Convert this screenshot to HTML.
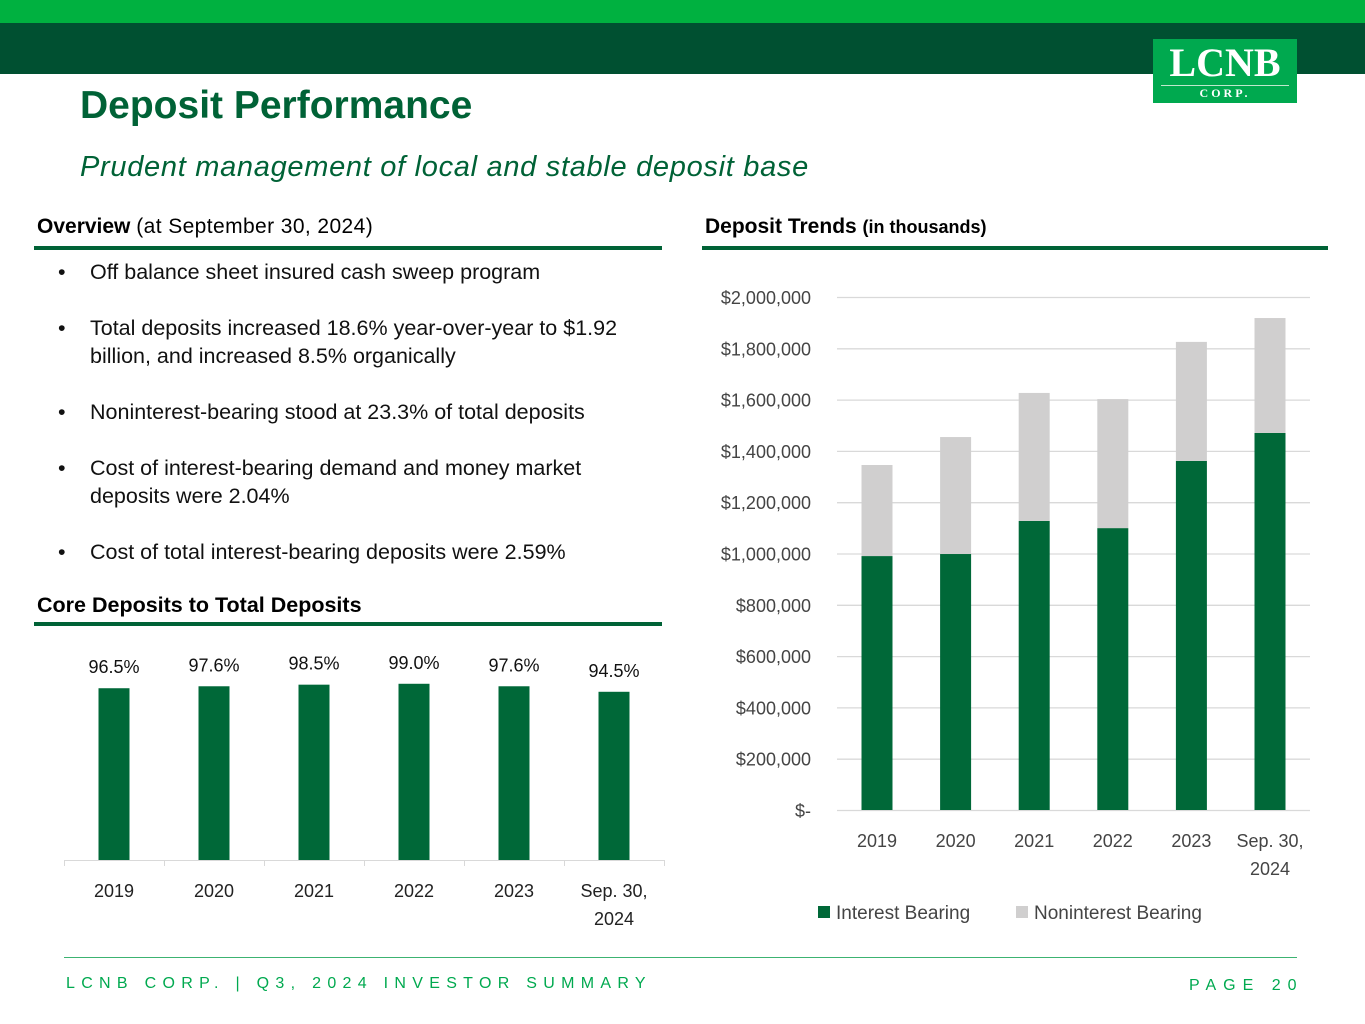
<!DOCTYPE html>
<html><head><meta charset="utf-8"><style>
body{margin:0;width:1365px;height:1024px;position:relative;background:#fff;font-family:"Liberation Sans",sans-serif;overflow:hidden}
.abs{position:absolute}
.bl{position:relative;padding-left:32px}
.bl .dot{position:absolute;left:0;top:0}
</style></head><body>
<div class="abs" style="left:0;top:0;width:1365px;height:23px;background:#00b140"></div>
<div class="abs" style="left:0;top:23px;width:1365px;height:51px;background:#005031"></div>
<div class="abs" style="left:1153px;top:39px;width:144px;height:64px;background:#00a94f;color:#fff;text-align:center;font-family:'Liberation Serif',serif">
<div style="font-size:40px;font-weight:bold;line-height:44px;margin-top:2px">LCNB</div>
<div style="border-top:1px solid #bfe8cc;margin:0 8px;font-size:12px;font-weight:bold;letter-spacing:3px;line-height:15px">CORP.</div></div>
<div class="abs" style="left:80px;top:84px;font-size:39px;font-weight:bold;color:#006236">Deposit Performance</div>
<div class="abs" style="left:80px;top:151px;font-size:29px;font-style:italic;color:#006236;letter-spacing:0.7px">Prudent management of local and stable deposit base</div>

<div class="abs" style="left:37px;top:215px;font-size:21px;color:#000"><b>Overview</b> <span style="letter-spacing:0.4px">(at September 30, 2024)</span></div>
<div class="abs" style="left:34px;top:246px;width:628px;height:4px;background:#006236"></div>
<div class="abs" style="left:58px;top:258px;font-size:21.5px;line-height:28px;color:#111;width:572px">
<div class="bl"><span class="dot">•</span>Off balance sheet insured cash sweep program</div>
<div class="bl" style="margin-top:28px"><span class="dot">•</span>Total deposits increased 18.6% year-over-year to $1.92 billion, and increased 8.5% organically</div>
<div class="bl" style="margin-top:28px"><span class="dot">•</span>Noninterest-bearing stood at 23.3% of total deposits</div>
<div class="bl" style="margin-top:28px"><span class="dot">•</span>Cost of interest-bearing demand and money market deposits were 2.04%</div>
<div class="bl" style="margin-top:28px"><span class="dot">•</span>Cost of total interest-bearing deposits were 2.59%</div>
</div>
<div class="abs" style="left:37px;top:593px;font-size:21.5px;font-weight:bold">Core Deposits to Total Deposits</div>
<div class="abs" style="left:34px;top:622px;width:628px;height:4px;background:#006236"></div>

<div class="abs" style="left:705px;top:215px;font-size:21px;font-weight:bold">Deposit Trends <span style="font-size:18px">(in thousands)</span></div>
<div class="abs" style="left:702px;top:246px;width:626px;height:4px;background:#006236"></div>

<svg class="abs" style="left:0;top:0" width="1365" height="1024">
<g id="core"></g>
<g id="trend"></g>
</svg>

<div class="abs" style="left:64px;top:957px;width:1233px;height:1px;background:#3cb371"></div>
<div class="abs" style="left:66px;top:975px;font-size:16px;letter-spacing:6.3px;color:#00a94f">LCNB CORP. | Q3, 2024 INVESTOR SUMMARY</div>
<div class="abs" style="left:1189px;top:977px;font-size:16px;letter-spacing:7px;color:#00a94f">PAGE 20</div>

<script>
const coreCats=["2019","2020","2021","2022","2023","Sep. 30,|2024"];
const coreVals=[96.5,97.6,98.5,99.0,97.6,94.5];
const trendCats=["2019","2020","2021","2022","2023","Sep. 30,|2024"];
const interestBearing=[990000,998000,1127000,1099000,1361000,1470000];
const noninterestBearing=[355000,456000,499000,503000,464000,448000];
const yTicks=[0,200000,400000,600000,800000,1000000,1200000,1400000,1600000,1800000,2000000];
const yTickLabels=["$-","$200,000","$400,000","$600,000","$800,000","$1,000,000","$1,200,000","$1,400,000","$1,600,000","$1,800,000","$2,000,000"];

const NS="http://www.w3.org/2000/svg";
function mk(p,t,a,txt){const e=document.createElementNS(NS,t);for(const k in a)e.setAttribute(k,a[k]);if(txt!==undefined)e.textContent=txt;p.appendChild(e);return e;}
const F='"Liberation Sans",sans-serif';
const core=document.getElementById('core');
const cx=i=>114+i*100, cy=v=>860-v/100*178;
let ax=mk(core,'line',{x1:64,x2:664,y1:860.5,y2:860.5,stroke:'#d9d9d9'});

for(let i=0;i<=6;i++){mk(core,'line',{x1:64+i*100+.5,x2:64+i*100+.5,y1:860,y2:866,stroke:'#d9d9d9'});}
coreVals.forEach((v,i)=>{
 const r=mk(core,'rect',{x:cx(i)-15.5,y:cy(v),width:31,height:860-cy(v),fill:'#006838'});
 
 
 const l=mk(core,'text',{x:cx(i),y:cy(v)-15,'text-anchor':'middle','font-size':18,'font-family':F,fill:'#111'},v.toFixed(1)+'%');
 
 
 coreCats[i].split('|').forEach((s,j)=>{const t=mk(core,'text',{x:cx(i),y:897+j*28,'text-anchor':'middle','font-size':18,'font-family':F,fill:'#222'},s);
 
 });
});
const tr=document.getElementById('trend');
const tx=i=>877+i*78.6, ty=v=>810-v/2000000*513;
yTicks.forEach((v,i)=>{
 const g=mk(tr,'line',{x1:837,x2:1310,y1:ty(v)+.5,y2:ty(v)+.5,stroke:'#d9d9d9','stroke-width':1.3});
 
 
 const t=mk(tr,'text',{x:811,y:ty(v)+7,'text-anchor':'end','font-size':18,'font-family':F,fill:'#444'},yTickLabels[i]);
 
 
});
interestBearing.forEach((v,i)=>{
 const n=noninterestBearing[i];
 const a=mk(tr,'rect',{x:tx(i)-15.5,y:ty(v),width:31,height:ty(0)-ty(v),fill:'#006838'});
 
 
 const b=mk(tr,'rect',{x:tx(i)-15.5,y:ty(v+n),width:31,height:ty(v)-ty(v+n),fill:'#d0cfcf'});
 
 
 trendCats[i].split('|').forEach((s,j)=>{const t=mk(tr,'text',{x:tx(i),y:847+j*28,'text-anchor':'middle','font-size':18,'font-family':F,fill:'#444'},s);
 
 });
});
let lg=mk(tr,'rect',{x:818,y:906,width:12,height:12,fill:'#006838'});

lg=mk(tr,'text',{x:836,y:919,'font-size':19,'font-family':F,fill:'#444'},'Interest Bearing');

lg=mk(tr,'rect',{x:1016,y:906,width:12,height:12,fill:'#d0cfcf'});

lg=mk(tr,'text',{x:1034,y:919,'font-size':19,'font-family':F,fill:'#444'},'Noninterest Bearing');

</script>
</body></html>
